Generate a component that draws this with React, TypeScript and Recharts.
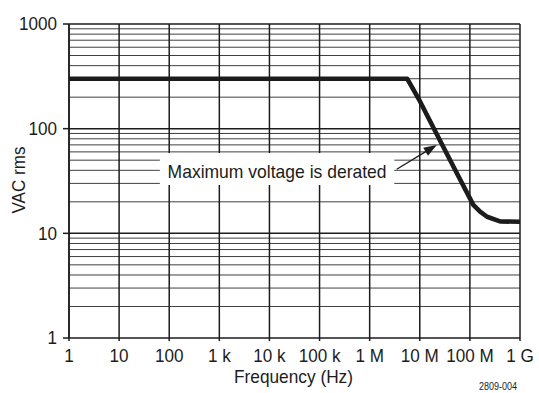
import React from 'react';
import { LineChart, Line, XAxis, YAxis, CartesianGrid, ReferenceLine, ReferenceArea } from 'recharts';

// ---- data ----
const freqHz = [1, 5.6e6, 1e7, 2e7, 5e7, 1.17e8, 1.6e8, 2.2e8, 4e8, 1e9];
const vacRms = [300, 300, 184, 96, 41, 18.7, 16.1, 14.4, 13.0, 12.9];

const xTicks = [1, 10, 100, 1e3, 1e4, 1e5, 1e6, 1e7, 1e8, 1e9];
const xTickLabels = ['1', '10', '100', '1 k', '10 k', '100 k', '1 M', '10 M', '100 M', '1 G'];
const yTicks = [1, 10, 100, 1000];
const yTickLabels = ['1', '10', '100', '1000'];
const yMinor = [2, 3, 4, 5, 6, 7, 8, 9, 20, 30, 40, 50, 60, 70, 80, 90, 200, 300, 400, 500, 600, 700, 800, 900];

const noteText = 'Maximum voltage is derated';
const noteBoxX = [65, 3.1e6];
const noteBoxY = [29, 58.6];
const arrowFrom = { x: 3.47e6, y: 40.9 };
const arrowTo = { x: 2.18e7, y: 69.9 };

const chartData = freqHz.map((f, i) => ({ f, v: vacRms[i] }));

const FONT = '"Liberation Sans", Arial, sans-serif';
const INK = '#1c1c1c';

const XTick = (props: any) => {
  const { x, y, payload } = props;
  const idx = xTicks.indexOf(payload.value);
  const label = idx >= 0 ? xTickLabels[idx] : String(payload.value);
  return (
    <g transform={`translate(${x},${y})`}>
      <text transform="scale(0.9,1)" x={0} y={13.6} textAnchor="middle" fontSize={19} fontFamily={FONT} fill={INK}>
        {label}
      </text>
    </g>
  );
};

const YTick = (props: any) => {
  const { x, y, payload } = props;
  const idx = yTicks.indexOf(payload.value);
  const label = idx >= 0 ? yTickLabels[idx] : String(payload.value);
  return (
    <g transform={`translate(${x},${y})`}>
      <text transform="scale(0.9,1)" x={0} y={6.3} textAnchor="end" fontSize={19} fontFamily={FONT} fill={INK}>
        {label}
      </text>
    </g>
  );
};

const XTitle = (props: any) => {
  const vb = props.viewBox || { x: 69, y: 338, width: 451, height: 30 };
  return (
    <g>
      <text x={vb.x + vb.width / 2 - 1} y={vb.y + 44.7} textAnchor="middle" fontSize={19} fontFamily={FONT} fill={INK} textLength={119} lengthAdjust="spacingAndGlyphs">
        Frequency (Hz)
      </text>
      <text x={vb.x + vb.width - 3} y={vb.y + 52} textAnchor="end" fontSize={10} fontFamily={FONT} fill={INK} textLength={38} lengthAdjust="spacingAndGlyphs">
        2809-004
      </text>
    </g>
  );
};

const YTitle = (props: any) => {
  const vb = props.viewBox || { x: 9, y: 24, width: 60, height: 314 };
  const cx = vb.x + 15.5;
  const cy = vb.y + vb.height / 2 - 1;
  return (
    <text transform={`translate(${cx},${cy}) rotate(-90)`} x={0} y={0} textAnchor="middle" fontSize={19} fontFamily={FONT} fill={INK} textLength={67} lengthAdjust="spacingAndGlyphs">
      VAC rms
    </text>
  );
};

const NoteLabel = (props: any) => {
  const vb = props.viewBox;
  if (!vb) return null;
  return (
    <text x={vb.x + vb.width / 2} y={vb.y + vb.height / 2 + 8.7} textAnchor="middle" fontSize={19} fontFamily={FONT} fill={INK} textLength={219} lengthAdjust="spacingAndGlyphs">
      {noteText}
    </text>
  );
};

const Arrow = (props: any) => {
  const { x1, y1, x2, y2 } = props;
  if ([x1, y1, x2, y2].some((v) => typeof v !== 'number' || isNaN(v))) return null;
  const dx = x2 - x1;
  const dy = y2 - y1;
  const len = Math.sqrt(dx * dx + dy * dy);
  const ux = dx / len;
  const uy = dy / len;
  const headL = 13;
  const headW = 4.6;
  const bx = x2 - ux * headL;
  const by = y2 - uy * headL;
  const px = -uy;
  const py = ux;
  return (
    <g>
      <line x1={x1} y1={y1} x2={bx + ux * 2} y2={by + uy * 2} stroke={INK} strokeWidth={1.3} />
      <polygon points={`${x2},${y2} ${bx + px * headW},${by + py * headW} ${bx - px * headW},${by - py * headW}`} fill={INK} />
    </g>
  );
};

export default function App() {
  return (
    <div style={{ position: 'absolute', left: 0, top: 0, width: 539, height: 393, background: '#fff' }}>
      <LineChart width={539} height={393} data={chartData} margin={{ top: 24, right: 19, bottom: 25, left: 9 }}>
        <CartesianGrid horizontalValues={yMinor} vertical={false} stroke="#2a2a2a" strokeWidth={0.9} />
        <CartesianGrid horizontalValues={[10, 100, 1000]} verticalValues={xTicks} stroke={INK} strokeWidth={1.5} />
        <XAxis
          dataKey="f"
          type="number"
          scale="log"
          domain={[1, 1e9]}
          ticks={xTicks}
          interval={0}
          allowDataOverflow
          height={30}
          tickSize={3}
          tickMargin={7}
          tick={<XTick />}
          stroke={INK}
          strokeWidth={1.5}
          label={(p: any) => <XTitle {...p} />}
        />
        <YAxis
          type="number"
          scale="log"
          domain={[1, 1000]}
          ticks={yTicks}
          interval={0}
          allowDataOverflow
          width={60}
          tickSize={6}
          tickMargin={6}
          tick={<YTick />}
          stroke={INK}
          strokeWidth={1.5}
          label={(p: any) => <YTitle {...p} />}
        />
        <ReferenceArea
          x1={noteBoxX[0]}
          x2={noteBoxX[1]}
          y1={noteBoxY[0]}
          y2={noteBoxY[1]}
          fill="#ffffff"
          fillOpacity={1}
          stroke="none"
          label={(p: any) => <NoteLabel {...p} />}
        />
        <ReferenceLine segment={[arrowFrom, arrowTo]} stroke={INK} shape={(p: any) => <Arrow {...p} />} />
        <Line dataKey="v" type="linear" stroke={INK} strokeWidth={4.6} dot={false} isAnimationActive={false} strokeLinejoin="round" />
      </LineChart>
    </div>
  );
}
